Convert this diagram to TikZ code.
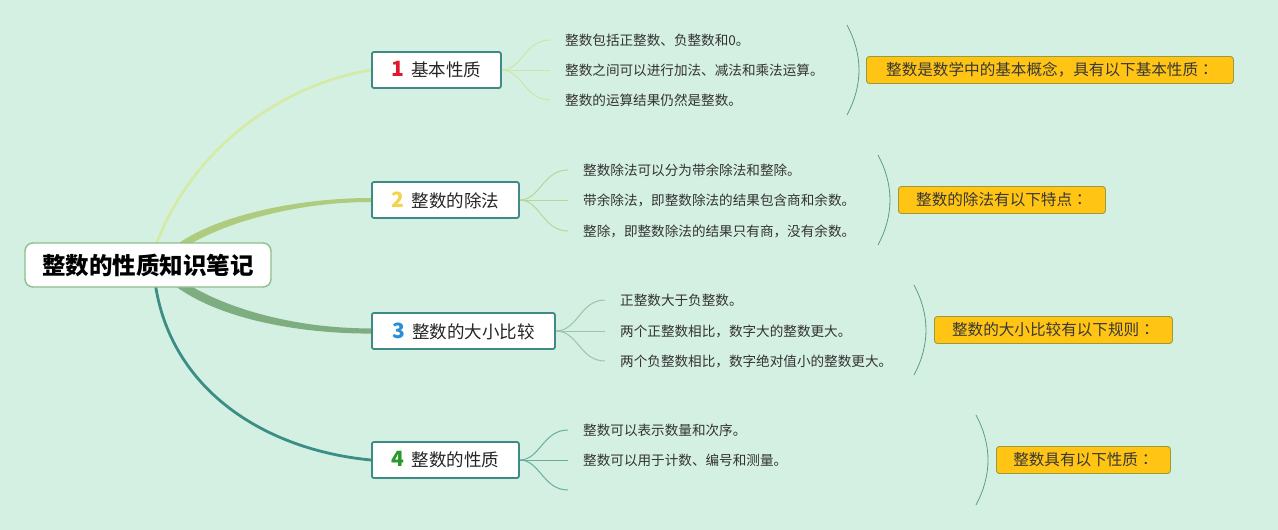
\documentclass[tikz,border=0pt]{standalone}
\usepackage{fontspec}
\setmainfont{Noto Sans CJK SC}
\newfontfamily\jpcolon{Noto Sans CJK JP}
\pgfdeclarelayer{bglayer}
\pgfdeclarelayer{linelayer}
\pgfsetlayers{bglayer,linelayer,main}
\begin{document}
\begin{tikzpicture}[x=1pt,y=-1pt,
  rootbox/.style={draw=rootline,line width=1.4pt,fill=white,rounded corners=8pt,minimum width=246pt,minimum height=44pt,inner sep=0pt,font=\fontsize{23.5}{26}\selectfont\bfseries,text=black},
  branchbox/.style={draw=boxline,line width=1.8pt,fill=white,rounded corners=2pt,minimum height=36pt,inner xsep=0pt,anchor=west,font=\fontsize{17.5}{20}\selectfont,text=black!85},
  leaf/.style={anchor=west,inner sep=0pt,font=\fontsize{13.6}{16}\selectfont,text=black!80},
  summary/.style={draw=sumline,line width=0.9pt,fill=sumfill,rounded corners=3pt,minimum height=27pt,inner xsep=0pt,anchor=west,font=\fontsize{15.6}{18}\selectfont,text=black!78},
  brace/.style={draw=braceline,line width=0.8pt},
]
\definecolor{bg}{HTML}{D4F0E2}
\definecolor{rootline}{HTML}{8DBE8D}
\definecolor{boxline}{HTML}{3E8A86}
\definecolor{sumfill}{HTML}{FFC414}
\definecolor{sumline}{HTML}{9A9A3A}
\definecolor{braceline}{HTML}{5C9C8C}
\definecolor{cA}{HTML}{D5EAA2}
\definecolor{cB}{HTML}{AECB7E}
\definecolor{cC}{HTML}{7EAE80}
\definecolor{cD}{HTML}{3A8E86}
\definecolor{lA}{HTML}{CDE6A8}
\definecolor{lB}{HTML}{B6D69A}
\definecolor{lC}{HTML}{9CC4A8}
\definecolor{lD}{HTML}{6AAEA2}
\definecolor{nA}{HTML}{E0182D}
\definecolor{nB}{HTML}{F3D34C}
\definecolor{nC}{HTML}{2A8FD8}
\definecolor{nD}{HTML}{27982A}

\begin{pgfonlayer}{bglayer}
\fill[bg] (0,0) rectangle (1278,530);
\end{pgfonlayer}
\useasboundingbox (0,0) rectangle (1278,530);

\node[rootbox] (root) at (148,265) {整数的性质知识笔记};
\node[branchbox,minimum width=129pt] (b1) at (371,70) {\textcolor{nA}{\fontsize{21}{22}\selectfont\bfseries 1}\hspace{7pt}基本性质};
\node[branchbox,minimum width=147pt] (b2) at (371,200) {\textcolor{nB}{\fontsize{21}{22}\selectfont\bfseries 2}\hspace{7pt}整数的除法};
\node[branchbox,minimum width=183pt] (b3) at (371,331) {\textcolor{nC}{\fontsize{21}{22}\selectfont\bfseries 3}\hspace{7pt}整数的大小比较};
\node[branchbox,minimum width=147pt] (b4) at (371,460) {\textcolor{nD}{\fontsize{21}{22}\selectfont\bfseries 4}\hspace{7pt}整数的性质};

\coordinate (r1) at (155,248);
\coordinate (r2a) at (170,250);
\coordinate (r2b) at (181,250);
\coordinate (r3a) at (183,281);
\coordinate (r3b) at (169,281);
\coordinate (r4) at (155,282);

\begin{pgfonlayer}{linelayer}
\draw[cA,line width=2.6pt] (r1) .. controls (190,150) and (280,85) .. (b1.west);
\fill[cB] (r2a) .. controls (205,219) and (290,198) .. ([yshift=2pt]b2.west)
  -- ([yshift=-2pt]b2.west) .. controls (290,202) and (215,226) .. (r2b) -- cycle;
\fill[cC] (r3a) .. controls (220,306) and (290,328.5) .. ([yshift=2.6pt]b3.west)
  -- ([yshift=-2.6pt]b3.west) .. controls (290,333.5) and (210,316) .. (r3b) -- cycle;
\draw[cD,line width=2.8pt] (r4) .. controls (170,390) and (265,450) .. (b4.west);
\end{pgfonlayer}

% leaves branch 1
\node[leaf] (a1) at (565,40) {整数包括正整数、负整数和0。};
\node[leaf] (a2) at (565,70) {整数之间可以进行加法、减法和乘法运算。};
\node[leaf] (a3) at (565,100) {整数的运算结果仍然是整数。};
\coordinate (ea1) at (550,40);
\coordinate (ea2) at (550,70);
\coordinate (ea3) at (550,100);
\draw[lA,line width=1pt] (b1.east) .. controls (522,70) and (525,40) .. (ea1);
\draw[lA,line width=1pt] (b1.east) -- (ea2);
\draw[lA,line width=1pt] (b1.east) .. controls (522,70) and (525,100) .. (ea3);

% leaves branch 2
\node[leaf] (c1) at (583,170) {整数除法可以分为带余除法和整除。};
\node[leaf] (c2) at (583,200) {带余除法，即整数除法的结果包含商和余数。};
\node[leaf] (c3) at (583,231) {整除，即整数除法的结果只有商，没有余数。};
\coordinate (ec1) at (568,170);
\coordinate (ec2) at (568,200);
\coordinate (ec3) at (568,231);
\draw[lB,line width=1pt] (b2.east) .. controls (540,200) and (543,170) .. (ec1);
\draw[lB,line width=1pt] (b2.east) -- (ec2);
\draw[lB,line width=1pt] (b2.east) .. controls (540,200) and (543,231) .. (ec3);

% leaves branch 3
\node[leaf] (d1) at (620,300) {正整数大于负整数。};
\node[leaf] (d2) at (620,331) {两个正整数相比，数字大的整数更大。};
\node[leaf] (d3) at (620,361) {两个负整数相比，数字绝对值小的整数更大。};
\coordinate (ed1) at (605,300);
\coordinate (ed2) at (605,331);
\coordinate (ed3) at (605,361);
\draw[lC,line width=1pt] (b3.east) .. controls (578,331) and (580,300) .. (ed1);
\draw[lC,line width=1pt] (b3.east) -- (ed2);
\draw[lC,line width=1pt] (b3.east) .. controls (578,331) and (580,361) .. (ed3);

% leaves branch 4
\node[leaf] (e1) at (583,430) {整数可以表示数量和次序。};
\node[leaf] (e2) at (583,460) {整数可以用于计数、编号和测量。};
\coordinate (ee1) at (568,430);
\coordinate (ee2) at (568,460);
\coordinate (ee3) at (568,490);
\draw[lD,line width=1pt] (b4.east) .. controls (540,460) and (543,430) .. (ee1);
\draw[lD,line width=1pt] (b4.east) -- (ee2);
\draw[lD,line width=1pt] (b4.east) .. controls (540,460) and (543,490) .. (ee3);

% braces
\coordinate (s1t) at (847,25);  \coordinate (s1b) at (847,115);
\coordinate (s2t) at (878,155); \coordinate (s2b) at (878,245);
\coordinate (s3t) at (914,285); \coordinate (s3b) at (914,375);
\coordinate (s4t) at (976,415); \coordinate (s4b) at (976,505);
\draw[brace] (s1t) .. controls (863,55) and (863,85) .. (s1b);
\draw[brace] (s2t) .. controls (894,185) and (894,215) .. (s2b);
\draw[brace] (s3t) .. controls (930,315) and (930,345) .. (s3b);
\draw[brace] (s4t) .. controls (992,445) and (992,475) .. (s4b);

% summaries
\node[summary,minimum width=367pt] (t1) at (866,70) {整数是数学中的基本概念，具有以下基本性质{\jpcolon ：}};
\node[summary,minimum width=207pt] (t2) at (898,200) {整数的除法有以下特点{\jpcolon ：}};
\node[summary,minimum width=238pt] (t3) at (934,330) {整数的大小比较有以下规则{\jpcolon ：}};
\node[summary,minimum width=174pt] (t4) at (996,460) {整数具有以下性质{\jpcolon ：}};
\end{tikzpicture}
\end{document}
